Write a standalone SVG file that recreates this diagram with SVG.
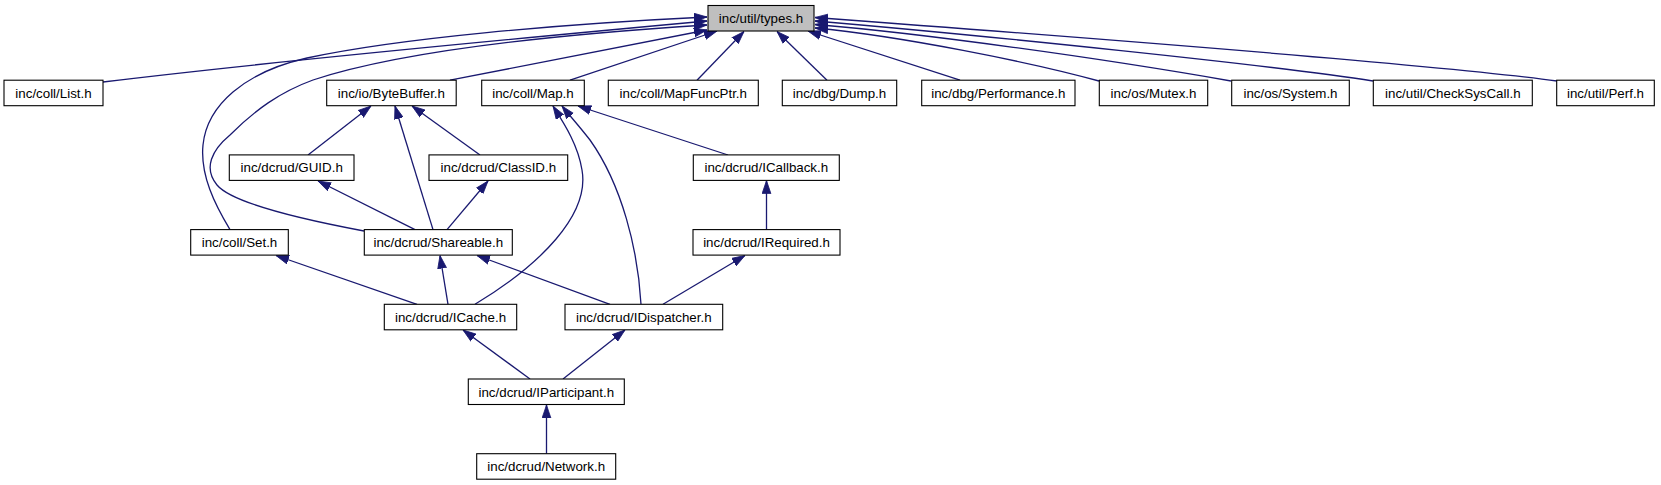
<svg xmlns="http://www.w3.org/2000/svg" width="1661" height="485" viewBox="0 0 1661 485">
<style>
.n rect{fill:#fff;stroke:#000;stroke-width:1.1}
.n.root rect{fill:#bfbfbf}
.n text{font-family:"Liberation Sans",Arial,sans-serif;font-size:13.33px;text-anchor:middle;fill:#000}
#edges path{fill:none;stroke:#191970;stroke-width:1.3;marker-end:url(#arr)}
</style>
<defs>
<marker id="arr" viewBox="0 0 13 10" refX="13" refY="5" markerWidth="13" markerHeight="10" markerUnits="userSpaceOnUse" orient="auto">
<polygon points="0,0.6 13,5 0,9.4" fill="#191970" stroke="#191970" stroke-width="0.8"/>
</marker>
</defs>
<rect x="0" y="0" width="1661" height="485" fill="#fff"/>
<g id="edges">
<path d="M103,82 C250,64 500,40 707,21"/>
<path d="M230,229.6 C215,205 200,175 203,145 C207,105 245,72 307,58 C400,38 560,24 707,17"/>
<path d="M364,231 C300,219 232,203 217,185 C203,168 212,150 230,135 C255,110 280,92 313,80 C380,58 500,38 707,25"/>
<path d="M450,80.2 L707,30"/>
<path d="M570,80.2 L717,31"/>
<path d="M697,80.2 L744,31.5"/>
<path d="M827,80.2 L777,31.5"/>
<path d="M960,80.2 L808,31"/>
<path d="M1099,81 C1030,62 900,36 815,28"/>
<path d="M1231,81 C1100,58 920,33 815,24.5"/>
<path d="M1373,81 C1280,66 980,35 815,21"/>
<path d="M1557,81 C1450,66 1050,35 815,17.5"/>
<path d="M308,155 L371,106"/>
<path d="M480,155 L412,106"/>
<path d="M433,229.6 L395,106"/>
<path d="M475,304.3 C540,265 590,215 582,170 C578,145 565,125 553,106"/>
<path d="M641,304.3 C638,250 622,185 590,140 C580,127 570,116 562,106"/>
<path d="M728,155 L578,106"/>
<path d="M415,229.6 L318,181"/>
<path d="M447,229.6 L488,181"/>
<path d="M417,304.3 L276,255.5"/>
<path d="M448,304.3 L440,255.5"/>
<path d="M610,304.3 L477,255.5"/>
<path d="M663,304.3 L745,255.5"/>
<path d="M766.5,229.6 L766.5,180.6"/>
<path d="M530,379 L463,330"/>
<path d="M563,379 L625,330"/>
<path d="M546.5,453.7 L546.5,405"/>
</g>
<g id="types" class="n root"><rect x="708" y="5.5" width="106" height="25.5"/><text x="761" y="23">inc/util/types.h</text></g>
<g id="list" class="n"><rect x="4" y="80.2" width="99" height="25.5"/><text x="53.5" y="97.7">inc/coll/List.h</text></g>
<g id="bytebuffer" class="n"><rect x="326.7" y="80.2" width="129.5" height="25.5"/><text x="391.4" y="97.7">inc/io/ByteBuffer.h</text></g>
<g id="map" class="n"><rect x="481.7" y="80.2" width="102.6" height="25.5"/><text x="533" y="97.7">inc/coll/Map.h</text></g>
<g id="mapfuncptr" class="n"><rect x="608.3" y="80.2" width="150" height="25.5"/><text x="683.3" y="97.7">inc/coll/MapFuncPtr.h</text></g>
<g id="dump" class="n"><rect x="782.3" y="80.2" width="114.4" height="25.5"/><text x="839.5" y="97.7">inc/dbg/Dump.h</text></g>
<g id="performance" class="n"><rect x="921.7" y="80.2" width="153.3" height="25.5"/><text x="998.3" y="97.7">inc/dbg/Performance.h</text></g>
<g id="mutex" class="n"><rect x="1099.3" y="80.2" width="108.4" height="25.5"/><text x="1153.5" y="97.7">inc/os/Mutex.h</text></g>
<g id="system" class="n"><rect x="1231.7" y="80.2" width="117.6" height="25.5"/><text x="1290.5" y="97.7">inc/os/System.h</text></g>
<g id="checksyscall" class="n"><rect x="1373.3" y="80.2" width="159" height="25.5"/><text x="1452.8" y="97.7">inc/util/CheckSysCall.h</text></g>
<g id="perf" class="n"><rect x="1556.7" y="80.2" width="97.6" height="25.5"/><text x="1605.5" y="97.7">inc/util/Perf.h</text></g>
<g id="guid" class="n"><rect x="229.3" y="154.9" width="124.7" height="25.5"/><text x="291.7" y="172.4">inc/dcrud/GUID.h</text></g>
<g id="classid" class="n"><rect x="429" y="154.9" width="138.7" height="25.5"/><text x="498.3" y="172.4">inc/dcrud/ClassID.h</text></g>
<g id="icallback" class="n"><rect x="693.3" y="154.9" width="146" height="25.5"/><text x="766.3" y="172.4">inc/dcrud/ICallback.h</text></g>
<g id="set" class="n"><rect x="190.7" y="229.6" width="97.6" height="25.5"/><text x="239.5" y="247.1">inc/coll/Set.h</text></g>
<g id="shareable" class="n"><rect x="364.3" y="229.6" width="148" height="25.5"/><text x="438.3" y="247.1">inc/dcrud/Shareable.h</text></g>
<g id="irequired" class="n"><rect x="693" y="229.6" width="147" height="25.5"/><text x="766.5" y="247.1">inc/dcrud/IRequired.h</text></g>
<g id="icache" class="n"><rect x="384.3" y="304.3" width="132.4" height="25.5"/><text x="450.5" y="321.8">inc/dcrud/ICache.h</text></g>
<g id="idispatcher" class="n"><rect x="565" y="304.3" width="157.7" height="25.5"/><text x="643.8" y="321.8">inc/dcrud/IDispatcher.h</text></g>
<g id="iparticipant" class="n"><rect x="468.3" y="379" width="156" height="25.5"/><text x="546.3" y="396.5">inc/dcrud/IParticipant.h</text></g>
<g id="network" class="n"><rect x="476.7" y="453.7" width="139" height="25.5"/><text x="546.2" y="471.2">inc/dcrud/Network.h</text></g>
</svg>
